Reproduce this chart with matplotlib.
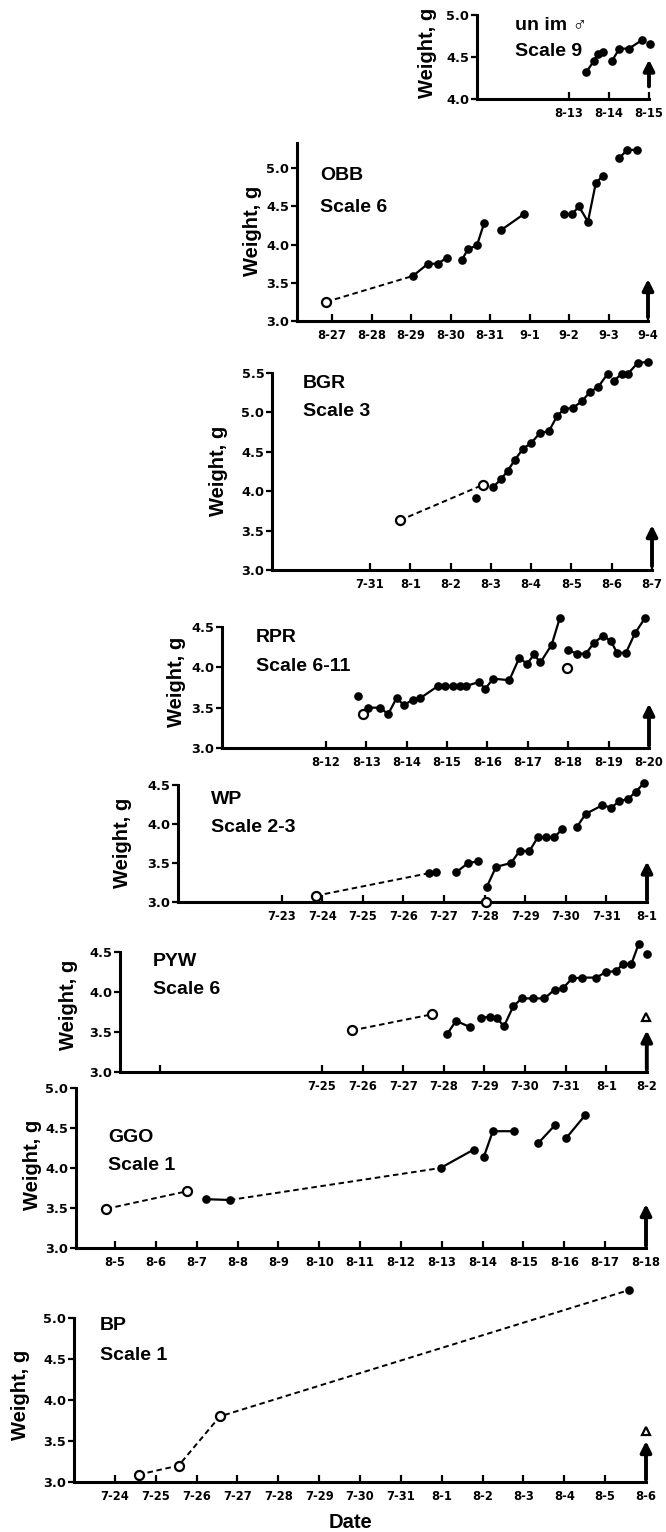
import numpy as np
import matplotlib
matplotlib.use('Agg')
import matplotlib.pyplot as plt

plt.rcParams['font.family'] = ['Liberation Sans', 'DejaVu Sans']
plt.rcParams['lines.scale_dashes'] = False

nan = np.nan
W, H = 666, 1532

# x values are in days counted from the first labelled date of each panel

# un im male, scale 9 (day 0 = 8-13)
unim_ticks = ['8-13', '8-14', '8-15']
unim_x = [0.43, 0.62, 0.72, 0.84, nan, 1.07, 1.26, 1.50, 1.82, nan, 2.02]
unim_y = [4.32, 4.45, 4.54, 4.56, nan, 4.45, 4.60, 4.60, 4.70, nan, 4.65]

# OBB, scale 6 (day 0 = 8-27)
obb_ticks = ['8-27', '8-28', '8-29', '8-30', '8-31', '9-1', '9-2', '9-3', '9-4']
obb_x = [2.05, 2.43, 2.68, 2.91, nan, 3.29, 3.44, 3.67, 3.85, nan, 4.28, 4.86, nan,
         5.87, 6.08, 6.25, 6.48, 6.68, 6.86, nan, 7.27, 7.47, 7.72]
obb_y = [3.59, 3.75, 3.75, 3.83, nan, 3.80, 3.94, 3.99, 4.28, nan, 4.19, 4.40, nan,
         4.40, 4.40, 4.50, 4.30, 4.81, 4.90, nan, 5.13, 5.24, 5.24]
obb_dash_x = [-0.15, 2.05]
obb_dash_y = [3.25, 3.59]
obb_open_x = [-0.15]
obb_open_y = [3.25]

# BGR, scale 3 (day 0 = 7-31)
bgr_ticks = ['7-31', '8-1', '8-2', '8-3', '8-4', '8-5', '8-6', '8-7']
bgr_x = [2.63, nan, 3.05, 3.25, 3.42, 3.60, 3.80, 4.00, 4.22, 4.44, 4.64, 4.81, 5.04,
         5.26, 5.46, 5.66, 5.90, nan, 6.05, 6.25, 6.40, 6.65, 6.90]
bgr_y = [3.91, nan, 4.05, 4.15, 4.26, 4.40, 4.54, 4.61, 4.74, 4.76, 4.95, 5.04, 5.06,
         5.14, 5.26, 5.32, 5.49, nan, 5.40, 5.49, 5.49, 5.63, 5.64]
bgr_dash_x = [0.74, 2.80]
bgr_dash_y = [3.63, 4.08]
bgr_open_x = [0.74, 2.80]
bgr_open_y = [3.63, 4.08]

# RPR, scale 6-11 (day 0 = 8-12)
rpr_ticks = ['8-12', '8-13', '8-14', '8-15', '8-16', '8-17', '8-18', '8-19', '8-20']
rpr_x = [0.80, nan, 0.91, 1.05, 1.34, 1.54, 1.75, 1.93, 2.15, 2.34, 2.78, 2.95, 3.14,
         3.32, 3.48, 3.80, 3.94, 4.14, 4.54, 4.79, 4.98, 5.15, 5.31, 5.59, 5.79, nan,
         6.00, 6.22, 6.44, 6.63, 6.86, 7.05, 7.21, 7.43, 7.65, 7.90]
rpr_y = [3.64, nan, 3.42, 3.50, 3.50, 3.42, 3.62, 3.53, 3.60, 3.62, 3.77, 3.77, 3.77,
         3.77, 3.77, 3.82, 3.73, 3.86, 3.84, 4.12, 4.04, 4.16, 4.06, 4.28, 4.61, nan,
         4.21, 4.17, 4.17, 4.30, 4.39, 4.33, 4.18, 4.18, 4.42, 4.61]
rpr_open_x = [0.91, 5.96]
rpr_open_y = [3.42, 3.99]

# WP, scale 2-3 (day 0 = 7-23)
wp_ticks = ['7-23', '7-24', '7-25', '7-26', '7-27', '7-28', '7-29', '7-30', '7-31', '8-1']
wp_x = [3.63, 3.81, nan, 4.30, 4.59, 4.83, nan, 5.05, 5.28, 5.65, 5.87, 6.10, 6.31,
        6.51, 6.72, 6.90, nan, 7.27, 7.49, 7.90, 8.12, 8.31, 8.53, 8.72, 8.93]
wp_y = [3.37, 3.39, nan, 3.38, 3.50, 3.52, nan, 3.19, 3.45, 3.50, 3.66, 3.65, 3.83,
        3.83, 3.83, 3.93, nan, 3.96, 4.13, 4.24, 4.21, 4.29, 4.32, 4.41, 4.53]
wp_dash_x = [0.84, 3.63]
wp_dash_y = [3.08, 3.37]
wp_open_x = [0.84, 5.04]
wp_open_y = [3.08, 3.00]

# PYW, scale 6 (day 0 = 7-25, extra unlabelled tick at 7-21)
pyw_ticks = ['', '7-25', '7-26', '7-27', '7-28', '7-29', '7-30', '7-31', '8-1', '8-2']
pyw_tick_pos = [-4, 0, 1, 2, 3, 4, 5, 6, 7, 8]
pyw_x = [3.09, 3.30, 3.65, nan, 3.91, 4.14, 4.30, 4.48, 4.71, 4.92, 5.19, 5.48, 5.73,
         5.94, 6.16, 6.41, 6.76, 6.99, 7.23, 7.42, 7.62, 7.80, nan, 8.01]
pyw_y = [3.48, 3.64, 3.56, nan, 3.68, 3.69, 3.68, 3.57, 3.82, 3.92, 3.92, 3.92, 4.03,
         4.05, 4.17, 4.18, 4.18, 4.25, 4.26, 4.35, 4.35, 4.60, nan, 4.47]
pyw_dash_x = [0.74, 2.70]
pyw_dash_y = [3.52, 3.72]
pyw_open_x = [0.74, 2.70]
pyw_open_y = [3.52, 3.72]
pyw_tri_x = [7.98]
pyw_tri_y = [3.69]

# GGO, scale 1 (day 0 = 8-5)
ggo_ticks = ['8-5', '8-6', '8-7', '8-8', '8-9', '8-10', '8-11', '8-12', '8-13', '8-14',
             '8-15', '8-16', '8-17', '8-18']
ggo_x = [2.24, 2.81, nan, 7.97, 8.78, nan, 9.03, 9.25, 9.77, nan, 10.36, 10.78, nan,
         11.04, 11.51]
ggo_y = [3.61, 3.60, nan, 4.00, 4.23, nan, 4.14, 4.46, 4.46, nan, 4.31, 4.54, nan,
         4.37, 4.66]
ggo_dash_x = [-0.21, 1.77, nan, 2.81, 7.97]
ggo_dash_y = [3.49, 3.71, nan, 3.60, 4.00]
ggo_open_x = [-0.21, 1.77]
ggo_open_y = [3.49, 3.71]

# BP, scale 1 (day 0 = 7-24)
bp_ticks = ['7-24', '7-25', '7-26', '7-27', '7-28', '7-29', '7-30', '7-31', '8-1', '8-2',
            '8-3', '8-4', '8-5', '8-6']
bp_x = [12.58]
bp_y = [5.34]
bp_dash_x = [0.58, 1.56, 2.57, 12.58]
bp_dash_y = [3.09, 3.20, 3.80, 5.34]
bp_open_x = [0.58, 1.56, 2.57]
bp_open_y = [3.09, 3.20, 3.80]
bp_tri_x = [13.0]
bp_tri_y = [3.62]

# release arrows: (day, start weight, end weight)
unim_arrow = (2.0, 4.15, 4.47)
obb_arrow = (8.0, 3.05, 3.55)
bgr_arrow = (7.0, 3.05, 3.57)
rpr_arrow = (8.0, 3.03, 3.55)
wp_arrow = (9.0, 3.03, 3.52)
pyw_arrow = (8.0, 3.03, 3.52)
ggo_arrow = (13.0, 3.03, 3.55)
bp_arrow = (13.0, 3.03, 3.50)

fig = plt.figure(figsize=(W / 100, H / 100), dpi=100)

tickfont = dict(family='DejaVu Sans', weight='bold')


def panel(left, right, bottom, top, xlim, ylim, yticks, ticks, tick_pos,
          name, scale, name_xy, scale_xy, wlab_xy,
          sx, sy, dx=None, dy=None, ox=None, oy=None, tx=None, ty=None, arrow=None):
    ax = fig.add_axes([left / W, 1 - bottom / H, (right - left) / W, (bottom - top) / H])
    ax.set_xlim(*xlim)
    ax.set_ylim(*ylim)
    for s in ['top', 'right']:
        ax.spines[s].set_visible(False)
    for s in ['left', 'bottom']:
        ax.spines[s].set_linewidth(2.2)
    ax.set_xticks(tick_pos)
    ax.set_xticklabels(ticks, fontsize=8.3, **tickfont)
    ax.set_yticks(yticks)
    ax.set_yticklabels(['%.1f' % v for v in yticks], fontsize=9.3, **tickfont)
    ax.tick_params(axis='x', direction='in', length=5, width=1.6, pad=6)
    ax.tick_params(axis='y', direction='out', length=4, width=1.6, pad=1.5)
    ax.patch.set_visible(False)

    if dx is not None:
        ax.plot(dx, dy, color='black', lw=1.4, dashes=(4, 2.6), clip_on=False, zorder=2)
    ax.plot(sx, sy, color='black', lw=1.6, marker='o', ms=5.2, clip_on=False, zorder=3)
    if ox is not None:
        ax.plot(ox, oy, ls='none', marker='o', ms=6.5, mfc='white', mec='black', mew=1.6,
                clip_on=False, zorder=4)
    if tx is not None:
        ax.plot(tx, ty, ls='none', marker='^', ms=6, mfc='white', mec='black', mew=1.6,
                clip_on=False, zorder=4)
    if arrow is not None:
        ax.annotate('', xy=(arrow[0], arrow[2]), xytext=(arrow[0], arrow[1]),
                    arrowprops=dict(arrowstyle='-|>', color='black', lw=2.8,
                                    mutation_scale=16, shrinkA=0, shrinkB=0),
                    annotation_clip=False)

    fig.text(name_xy[0] / W, 1 - name_xy[1] / H, name, ha='left', va='center',
             fontsize=14, weight='bold')
    fig.text(scale_xy[0] / W, 1 - scale_xy[1] / H, scale, ha='left', va='center',
             fontsize=14, weight='bold')
    fig.text(wlab_xy[0] / W, 1 - wlab_xy[1] / H, 'Weight, g', ha='center', va='center',
             rotation=90, fontsize=14.5, weight='bold')
    return ax


def xl(left, right, day0, pxday):
    return ((left - day0) / pxday, (right - day0) / pxday)


panel(477, 649, 99, 15, xl(477, 649, 569, 40.0), (4.0, 5.0), [4.0, 4.5, 5.0],
      unim_ticks, range(3), 'un im \u2642', 'Scale 9', (515, 25), (515, 52), (428, 53),
      unim_x, unim_y, arrow=unim_arrow)

panel(297, 648, 321, 143, xl(297, 648, 332, 39.5), (3.0, 5.33), [3.0, 3.5, 4.0, 4.5, 5.0],
      obb_ticks, range(9), 'OBB', 'Scale 6', (320, 176), (320, 207), (252, 231),
      obb_x, obb_y, obb_dash_x, obb_dash_y, obb_open_x, obb_open_y, arrow=obb_arrow)

panel(272, 652, 570, 373, xl(272, 652, 370, 40.3), (3.0, 5.5),
      [3.0, 3.5, 4.0, 4.5, 5.0, 5.5],
      bgr_ticks, range(8), 'BGR', 'Scale 3', (303, 383), (303, 412), (218, 471),
      bgr_x, bgr_y, bgr_dash_x, bgr_dash_y, bgr_open_x, bgr_open_y, arrow=bgr_arrow)

panel(222, 649, 748, 627, xl(222, 649, 326, 40.4), (3.0, 4.5), [3.0, 3.5, 4.0, 4.5],
      rpr_ticks, range(9), 'RPR', 'Scale 6-11', (256, 638), (256, 667), (176, 682),
      rpr_x, rpr_y, ox=rpr_open_x, oy=rpr_open_y, arrow=rpr_arrow)

panel(178, 647, 902, 785, xl(178, 647, 281.7, 40.6), (3.0, 4.5), [3.0, 3.5, 4.0, 4.5],
      wp_ticks, range(10), 'WP', 'Scale 2-3', (211, 799), (211, 828), (122, 843),
      wp_x, wp_y, wp_dash_x, wp_dash_y, wp_open_x, wp_open_y, arrow=wp_arrow)

panel(120, 647, 1072, 952, xl(120, 647, 322, 40.6), (3.0, 4.5), [3.0, 3.5, 4.0, 4.5],
      pyw_ticks, pyw_tick_pos, 'PYW', 'Scale 6', (153, 961), (153, 990), (68, 1005),
      pyw_x, pyw_y, pyw_dash_x, pyw_dash_y, pyw_open_x, pyw_open_y,
      pyw_tri_x, pyw_tri_y, arrow=pyw_arrow)

panel(76, 646, 1248, 1088, xl(76, 646, 115, 40.85), (3.0, 5.0),
      [3.0, 3.5, 4.0, 4.5, 5.0],
      ggo_ticks, range(14), 'GGO', 'Scale 1', (108, 1138), (108, 1166), (32, 1165),
      ggo_x, ggo_y, ggo_dash_x, ggo_dash_y, ggo_open_x, ggo_open_y, arrow=ggo_arrow)

panel(74, 646, 1482, 1318, xl(74, 646, 115, 41.0), (3.0, 5.0),
      [3.0, 3.5, 4.0, 4.5, 5.0],
      bp_ticks, range(14), 'BP', 'Scale 1', (100, 1325), (100, 1356), (21, 1395),
      bp_x, bp_y, bp_dash_x, bp_dash_y, bp_open_x, bp_open_y,
      bp_tri_x, bp_tri_y, arrow=bp_arrow)

fig.text(350 / W, 1 - 1522 / H, 'Date', ha='center', va='center', fontsize=14.5,
         weight='bold')

fig.savefig('out.png', dpi=100)
